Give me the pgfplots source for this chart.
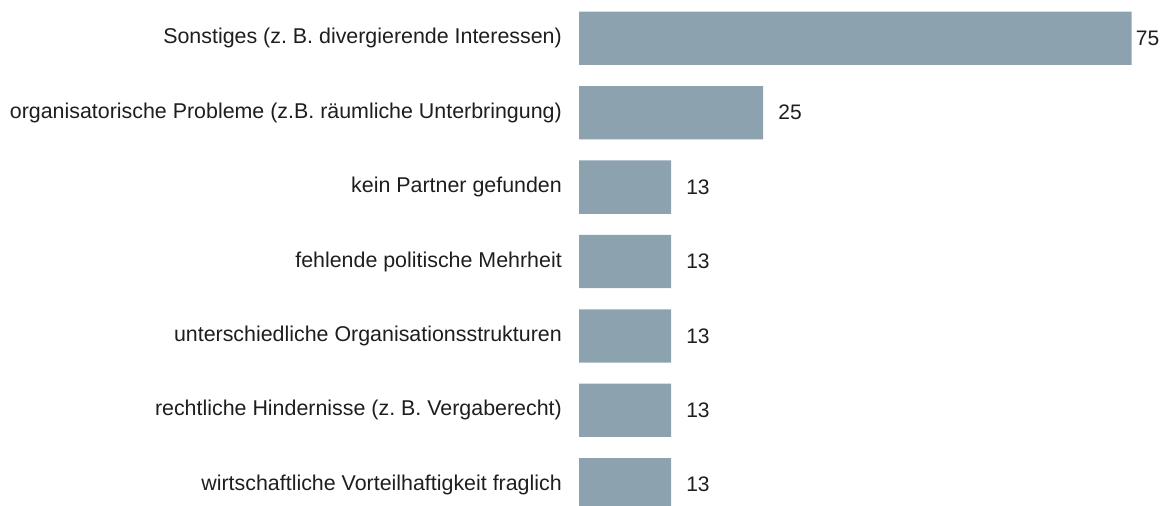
\documentclass[border=0pt]{standalone}
\usepackage{fontspec}
\setmainfont{Liberation Sans}
\usepackage{pgfplots}
\usepackage{pgfplotstable}
\pgfplotsset{compat=1.18}
\frenchspacing
\definecolor{barcol}{RGB}{140,162,175}
\definecolor{txt}{RGB}{30,30,30}
\pgfplotstableread[col sep=comma]{
idx,val,lab,shift
0,75,75,4
1,25,25,15
2,12.5,13,15
3,12.5,13,15
4,12.5,13,15
5,12.5,13,15
6,12.5,13,15
}\data
\begin{document}
\begin{tikzpicture}
\useasboundingbox (0,0) rectangle (1172bp,506bp);
\begin{axis}[
  at={(579bp,504.9bp)}, anchor=north west,
  scale only axis,
  width=552.7bp, height=520.8bp,
  xmin=0, xmax=75,
  ymin=-0.5, ymax=6.5,
  y dir=reverse,
  axis line style={draw=none},
  xtick=\empty,
  ytick={0,...,6},
  ytick style={draw=none},
  major tick length=0pt,
  yticklabels={
    Sonstiges (z. B. divergierende Interessen),
    organisatorische Probleme (z.B. räumliche Unterbringung),
    kein Partner gefunden,
    fehlende politische Mehrheit,
    unterschiedliche Organisationsstrukturen,
    rechtliche Hindernisse (z. B. Vergaberecht),
    wirtschaftliche Vorteilhaftigkeit fraglich
  },
  yticklabel style={anchor=east, inner sep=0pt, xshift=-17bp, text=txt,
    font=\fontsize{21.4bp}{25bp}\selectfont\frenchspacing},
  clip=false,
]
\addplot[xbar, bar width=53.3bp, fill=barcol, draw=none,
  nodes near coords,
  point meta=explicit symbolic,
  visualization depends on={\thisrow{shift}\as\sh},
  every node near coord/.append style={anchor=west, inner sep=0pt,
    xshift=\sh bp, text=txt, font=\fontsize{21bp}{25bp}\selectfont},
] table[x=val, y=idx, meta=lab]{\data};
\end{axis}
\end{tikzpicture}
\end{document}
